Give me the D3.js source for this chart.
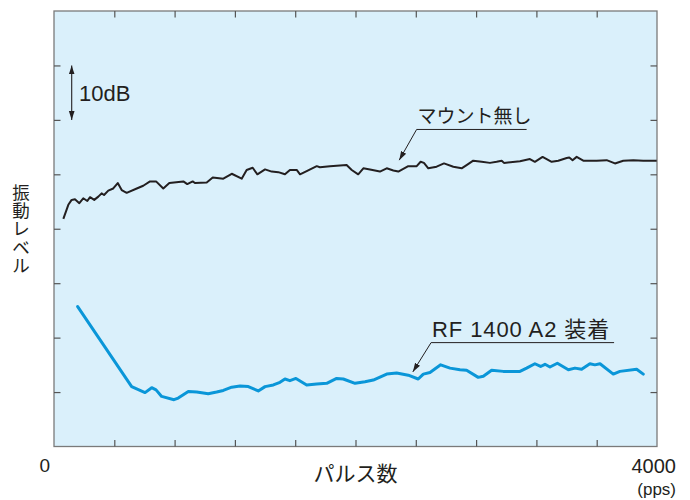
<!DOCTYPE html>
<html><head><meta charset="utf-8">
<script src="https://cdn.jsdelivr.net/npm/d3@7"></script>
<style>
html,body{margin:0;padding:0;background:#fff;}
text{font-family:"Liberation Sans","Noto Sans CJK JP",Arial,sans-serif;fill:#231f20;}
</style></head>
<body>
<svg id="chart" width="690" height="500"></svg>
<script>
// ---- data ----
const noMountX = [62,95,117,139,168,194,221,239,267,294,316,332,360,393,423,449,482,549,592,637,677,725,765,858,884,920,935,1013,1053,1123,1179,1245,1278,1318,1349,1400,1444,1488,1532,1565,1610,1632,1676,1743,1764,1831,1941,1975,2018,2052,2096,2162,2207,2251,2284,2350,2406,2432,2454,2483,2538,2587,2649,2704,2737,2781,2837,2892,2936,2970,2985,3091,3157,3190,3241,3301,3345,3401,3418,3440,3467,3511,3600,3666,3721,3776,3843,3909,3998];
const noMountY = [41.8,44.4,45.3,45.4,44.7,45.6,45.1,45.8,45.3,45.9,46.5,46.2,47.0,47.4,48.4,47.1,46.6,47.4,47.9,48.7,48.7,47.4,48.4,48.7,48.2,48.7,48.4,48.5,49.4,49.2,50.1,49.2,50.8,51.2,50.0,50.9,50.5,50.4,50.0,50.8,50.8,50.0,50.6,51.5,51.3,51.5,51.7,50.8,50.0,51.1,50.9,50.5,51.1,50.7,50.5,51.5,51.5,52.3,52.1,51.1,51.4,52.0,51.4,51.1,51.7,52.5,52.3,52.1,52.3,52.5,52.1,52.4,52.8,52.3,53.2,52.3,52.5,53.0,53.1,52.6,53.2,52.5,52.5,52.6,52.0,52.5,52.6,52.5,52.5];
const rfX = [157,515,604,648,677,714,796,824,891,947,1023,1079,1123,1179,1234,1289,1355,1400,1455,1499,1532,1565,1605,1676,1743,1809,1875,1919,1997,2063,2118,2207,2273,2350,2416,2450,2494,2565,2627,2693,2737,2814,2848,2903,2980,3091,3135,3190,3228,3257,3290,3339,3412,3456,3500,3555,3588,3622,3710,3754,3865,3909];
const rfY = [25.7,11.0,9.9,10.8,10.4,9.2,8.6,8.9,10.1,10.0,9.7,10.0,10.3,10.9,11.1,11.0,10.2,11.0,11.3,11.8,12.4,12.1,12.5,11.3,11.5,11.6,12.5,12.4,11.6,11.9,12.2,13.3,13.5,13.1,12.4,13.3,13.6,15.0,14.4,14.1,14.0,12.7,12.9,14.0,13.8,13.8,14.4,15.2,14.7,15.1,14.6,15.3,14.1,14.4,14.2,15.2,15.0,15.2,13.3,13.8,14.2,13.3];
const xTicks = [400,800,1200,1600,2000,2400,2800,3200,3600];
const yTicks = [10,20,30,40,50,60,70];
const xTickLabels = ["0","4000"];
const seriesNames = ["マウント無し","RF 1400 A2 装着"];
const xTitle = "パルス数";
const yTitle = "振動レベル";
const unitLabel = "(pps)";
const scaleLabel = "10dB";

// ---- layout ----
const svg = d3.select("#chart");
const L = 54, R = 657, T = 11, B = 446.5;
const x = d3.scaleLinear().domain([0,4000]).range([L,R]);
const y = d3.scaleLinear().domain([0,80]).range([B,T]);

svg.append("rect").attr("x",L).attr("y",T).attr("width",R-L).attr("height",B-T)
  .attr("fill","#daf0fb").attr("stroke","#7a7a7a").attr("stroke-width",1.3);

// axes with inward ticks
const tk = 6.5;
const axBottom = d3.axisBottom(x).tickValues(xTicks).tickSize(-tk).tickFormat("");
const axTop = d3.axisTop(x).tickValues(xTicks).tickSize(-tk).tickFormat("");
const axLeft = d3.axisLeft(y).tickValues(yTicks).tickSize(-tk).tickFormat("");
const axRight = d3.axisRight(y).tickValues(yTicks).tickSize(-tk).tickFormat("");
[[axBottom,`translate(0,${B})`],[axTop,`translate(0,${T})`],[axLeft,`translate(${L},0)`],[axRight,`translate(${R},0)`]].forEach(([a,t])=>{
  const g = svg.append("g").attr("transform",t).call(a);
  g.select(".domain").remove();
  g.selectAll(".tick line").attr("stroke","#555").attr("stroke-width",1.2);
});

// lines
const line = d3.line().x(d=>x(d[0])).y(d=>y(d[1])).curve(d3.curveLinear);
svg.append("path").datum(noMountX.map((v,i)=>[v,noMountY[i]]))
  .attr("d",line).attr("fill","none").attr("stroke","#231f20").attr("stroke-width",2).attr("stroke-linejoin","round");
svg.append("path").datum(rfX.map((v,i)=>[v,rfY[i]]))
  .attr("d",line).attr("fill","none").attr("stroke","#0a96d8").attr("stroke-width",3).attr("stroke-linejoin","round").attr("stroke-linecap","round");

// arrow markers
const defs = svg.append("defs");
defs.append("marker").attr("id","ah").attr("viewBox","0 0 10 10").attr("refX",10).attr("refY",5)
  .attr("markerWidth",9).attr("markerHeight",9).attr("markerUnits","userSpaceOnUse").attr("orient","auto-start-reverse")
  .append("path").attr("d","M0,1.8 L10,5 L0,8.2 Z").attr("fill","#231f20");

// 10dB scale arrow
const ax10 = 71.7;
svg.append("line").attr("x1",ax10).attr("x2",ax10).attr("y1",y(70)).attr("y2",y(60))
  .attr("stroke","#231f20").attr("stroke-width",1.1)
  .attr("marker-start","url(#ah)").attr("marker-end","url(#ah)");
svg.append("text").attr("x",79).attr("y",y(65)+8).attr("font-size",22).text(scaleLabel);

// series labels with leader
function label(tipX, tipY, kneeDX, kneeDY, lineLen, txt, fs, ls){
  const tx = x(tipX), ty = y(tipY);
  const kx = tx + kneeDX, ky = ty + kneeDY;
  svg.append("line").attr("x1",kx).attr("y1",ky).attr("x2",tx).attr("y2",ty)
    .attr("stroke","#231f20").attr("stroke-width",1).attr("marker-end","url(#ah)");
  svg.append("line").attr("x1",kx).attr("y1",ky).attr("x2",kx+lineLen).attr("y2",ky)
    .attr("stroke","#231f20").attr("stroke-width",1);
  svg.append("text").attr("x",kx+1).attr("y",ky-6).attr("font-size",fs).attr("letter-spacing",ls).text(txt);
}
label(2290, 52.6, 17.4, -30.7, 110, seriesNames[0], 19, 0);
label(2380, 13.7, 18.3, -29.3, 183, seriesNames[1], 22, 0.9);

// tick labels and titles
svg.append("text").attr("x",x(0)-4).attr("y",472).attr("text-anchor","end").attr("font-size",19).text(xTickLabels[0]);
svg.append("text").attr("x",x(4000)+19).attr("y",473).attr("text-anchor","end").attr("font-size",20).text(xTickLabels[1]);
svg.append("text").attr("x",x(4000)+19).attr("y",495).attr("text-anchor","end").attr("font-size",17).text(unitLabel);
svg.append("text").attr("x",(L+R)/2).attr("y",481).attr("text-anchor","middle").attr("font-size",21).text(xTitle);
const yt = svg.append("text").attr("font-size",17.5).attr("text-anchor","middle");
Array.from(yTitle).forEach((c,i)=>{
  yt.append("tspan").attr("x",21).attr("y",199+i*18.2).text(c);
});
</script>
</body></html>
